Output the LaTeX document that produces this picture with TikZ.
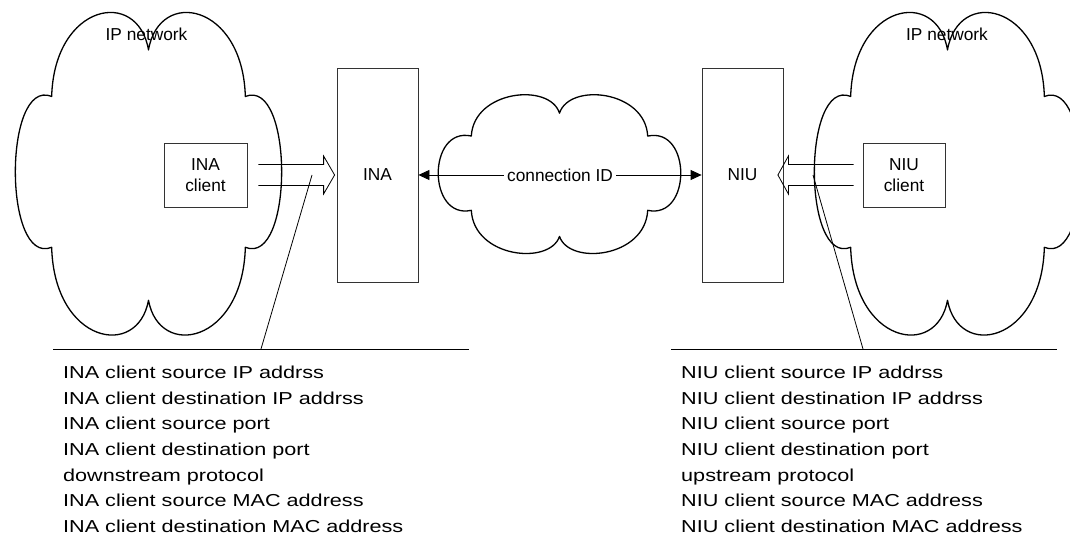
\documentclass[tikz,border=0pt]{standalone}
\usepackage{fontspec}
\setmainfont{Liberation Sans}
\newfontfamily\widefont[FakeStretch=1.25]{Liberation Sans}
\usetikzlibrary{arrows.meta,calc}
\tikzset{
  cloudline/.style={line width=1.3pt, line join=round},
  box/.style={draw=black!80, line width=0.8pt, inner sep=0pt, align=center,
    font=\fontsize{17.3}{21.6}\selectfont},
  lbl/.style={font=\fontsize{17.3}{21.6}\selectfont, inner sep=0pt, align=center},
  info/.style={font=\widefont\fontsize{17.3}{25.7}\selectfont, inner sep=0pt, align=left, anchor=north west},
  hollow/.style={line width=0.8pt, line join=miter},
  thinline/.style={line width=0.8pt},
  biarrow/.style={thinline, >={Triangle[length=11pt,width=10pt]}, <->},
  cloudshape/.pic={\draw[cloudline] (0.14,0.26)
     .. controls (0.15,-0.03) and (0.46,-0.08) .. (0.5,0.115)
     .. controls (0.54,-0.08) and (0.85,-0.03) .. (0.86,0.26)
     .. controls (1.04,0.2) and (1.04,0.79) .. (0.86,0.73)
     .. controls (0.85,1.03) and (0.54,1.08) .. (0.5,0.895)
     .. controls (0.46,1.08) and (0.15,1.03) .. (0.14,0.73)
     .. controls (-0.04,0.79) and (-0.04,0.2) .. cycle;}
}
\begin{document}
\begin{tikzpicture}[x=1pt,y=-1pt]
\path[use as bounding box] (0,0) rectangle (1070,534);
\clip (0,0) rectangle (1070,534);
% clouds
\pic[xscale=269,yscale=321] at (14,13) {cloudshape};
\pic[xscale=269,yscale=321] at (813,13) {cloudshape};
\pic[xscale=245,yscale=158] at (437,95) {cloudshape};
\node[lbl, anchor=base] (ipl) at (146.5,41) {IP network};
\node[lbl, anchor=base] (ipr) at (947,41) {IP network};
% boxes
\node[box, minimum width=81pt, minimum height=214pt] (ina) at (377.5,175) {INA};
\node[box, minimum width=81pt, minimum height=214pt] (niu) at (742.5,175) {NIU};
\node[box, minimum width=83pt, minimum height=64pt] (inac) at (205.5,175) {INA\\client};
\node[box, minimum width=82pt, minimum height=64pt] (niuc) at (904,175) {NIU\\client};
% connection
\draw[biarrow] (ina.east) -- (niu.west)
  node[midway, lbl, fill=white, inner sep=3pt] (cid) {connection ID};
% hollow arrows
\draw[hollow] ($(inac.east)+(11,-10.5)$) -- ($(ina.west)+(-13,-10.5)$)
  -- ($(ina.west)+(-13,-19)$) -- ($(ina.west)+(-2,0)$)
  -- ($(ina.west)+(-13,19)$) -- ($(ina.west)+(-13,10.5)$)
  -- ($(inac.east)+(11,10.5)$);
\draw[hollow] ($(niuc.west)+(-9,-10.5)$) -- ($(niu.east)+(5,-10.5)$)
  -- ($(niu.east)+(5,-19)$) -- ($(niu.east)+(-5.5,0)$)
  -- ($(niu.east)+(5,19)$) -- ($(niu.east)+(5,10.5)$)
  -- ($(niuc.west)+(-9,10.5)$);
% leaders
\coordinate (lp) at (312,175);
\coordinate (lq) at (261,349);
\coordinate (la) at (53,349);
\coordinate (lb) at (469,349);
\coordinate (rp) at (813,175);
\coordinate (rq) at (863,349);
\coordinate (ra) at (671,349);
\coordinate (rb) at (1057,349);
\draw[thinline] (lp) -- (lq);
\draw[thinline] (la) -- (lb);
\draw[thinline] (rp) -- (rq);
\draw[thinline] (ra) -- (rb);
% info texts
\node[info] (infl) at (63,365.6) {INA client source IP addrss\\INA client destination IP addrss\\INA client source port\\INA client destination port\\downstream protocol\\INA client source MAC address\\INA client destination MAC address};
\node[info] (infr) at (681,365.6) {NIU client source IP addrss\\NIU client destination IP addrss\\NIU client source port\\NIU client destination port\\upstream protocol\\NIU client source MAC address\\NIU client destination MAC address};
\end{tikzpicture}
\end{document}
